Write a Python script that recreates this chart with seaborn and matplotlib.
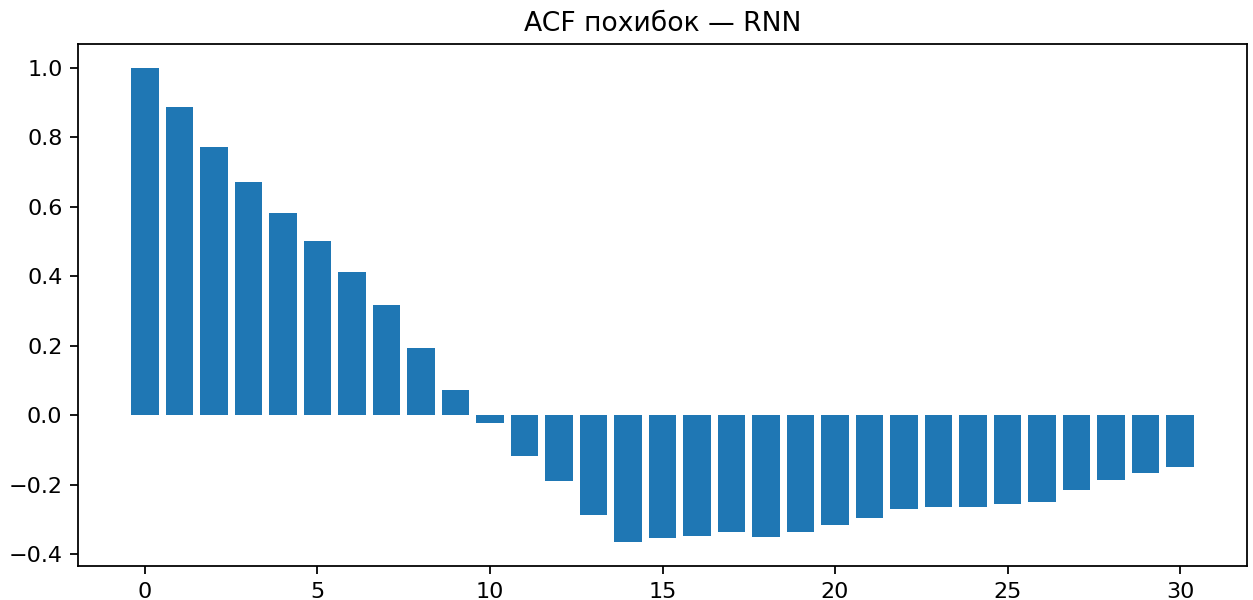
import numpy as np
import pandas as pd
import matplotlib
matplotlib.use("Agg")
import matplotlib.pyplot as plt
import seaborn as sns

# ACF of residuals, lags 0..30
lags = list(range(31))
acf_values = [1.0, 0.888, 0.771, 0.672, 0.583, 0.502, 0.412, 0.316, 0.192, 0.072,
              -0.023, -0.118, -0.190, -0.286, -0.366, -0.353, -0.347, -0.335, -0.350, -0.335,
              -0.316, -0.297, -0.269, -0.263, -0.263, -0.257, -0.251, -0.216, -0.187, -0.165,
              -0.149]

def plot_acf():
    acf_data = pd.DataFrame({"lag": lags, "acf": acf_values})
    fig, ax = plt.subplots(figsize=(1253 / 160, 600 / 160), dpi=160)
    sns.barplot(x="lag", y="acf", data=acf_data, native_scale=True, color="#1f77b4",
                saturation=1, width=0.8, linewidth=0, ax=ax)
    ax.set_xlabel("")
    ax.set_ylabel("")
    ax.set_xlim(-1.94, 31.94)
    ax.set_ylim(-0.434, 1.068)
    ax.set_xticks([0, 5, 10, 15, 20, 25, 30])
    ax.set_title("ACF похибок — RNN")
    fig.subplots_adjust(left=78 / 1253, right=1247 / 1253, top=1 - 44 / 600, bottom=1 - 566 / 600)
    fig.savefig("out.png", dpi=160)

def main():
    plot_acf()

if __name__ == '__main__':
    main()
